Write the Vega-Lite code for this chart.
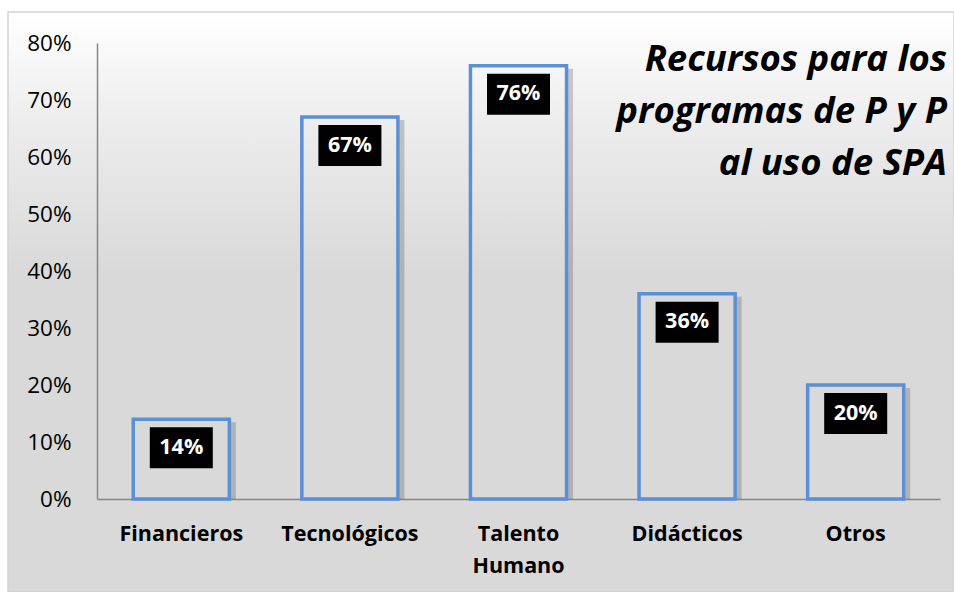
{
  "$schema": "https://vega.github.io/schema/vega-lite/v6.json",
  "autosize": "none",
  "width": 946,
  "height": 580,
  "padding": {"left": 8, "top": 12, "right": 0, "bottom": 0},
  "background": "#ffffff",
  "view": {
    "fill": {
      "gradient": "linear",
      "x1": 0, "y1": 0, "x2": 0, "y2": 1,
      "stops": [
        {"offset": 0, "color": "#ffffff"},
        {"offset": 0.2, "color": "#ececec"},
        {"offset": 0.45, "color": "#d9d9d9"},
        {"offset": 1, "color": "#d9d9d9"}
      ]
    },
    "stroke": "#d4d4d4",
    "strokeWidth": 1.5
  },
  "title": {
    "text": ["Recursos para los", "programas de P y P", "al uso de SPA"],
    "anchor": "end",
    "orient": "top",
    "frame": "group",
    "baseline": "top",
    "offset": -170,
    "dx": -7,
    "font": "Open Sans",
    "fontSize": 36.5,
    "fontWeight": "bold",
    "fontStyle": "italic",
    "color": "#000000",
    "lineHeight": 52
  },
  "data": {
    "values": [
      {"categoria": "Financieros", "valor": 0.14, "etiqueta": "14%"},
      {"categoria": "Tecnológicos", "valor": 0.67, "etiqueta": "67%"},
      {"categoria": "Talento Humano", "valor": 0.76, "etiqueta": "76%"},
      {"categoria": "Didácticos", "valor": 0.36, "etiqueta": "36%"},
      {"categoria": "Otros", "valor": 0.20, "etiqueta": "20%"}
    ]
  },
  "encoding": {
    "x": {
      "field": "categoria",
      "type": "nominal",
      "sort": null,
      "scale": {"range": [89, 932], "paddingInner": 0.43, "paddingOuter": 0.215},
      "axis": {
        "title": null,
        "orient": "bottom",
        "offset": -93,
        "domainColor": "#868686",
        "domainWidth": 1.5,
        "ticks": false,
        "tickSize": 0,
        "labelAngle": 0,
        "labelPadding": 24,
        "labelBaseline": "top",
        "labelFont": "Open Sans",
        "labelFontSize": 21.5,
        "labelFontWeight": "bold",
        "labelColor": "#000000",
        "labelLineHeight": 32,
        "labelExpr": "split(datum.label, ' ')"
      }
    }
  },
  "layer": [
    {
      "mark": {"type": "rule", "color": "#000000", "opacity": 0.18, "strokeWidth": 5, "xOffset": 4, "yOffset": 3},
      "encoding": {
        "x": {"field": "categoria", "type": "nominal", "sort": null, "bandPosition": 1},
        "y": {"field": "valor", "type": "quantitative"},
        "y2": {"datum": 0}
      }
    },
    {
      "mark": {"type": "bar", "fill": "transparent", "stroke": "#5b8fd6", "strokeWidth": 3.5},
      "encoding": {
        "y": {
          "field": "valor",
          "type": "quantitative",
          "scale": {"domain": [0, 0.8], "range": [487, 31], "nice": false},
          "axis": {
            "title": null,
            "orient": "left",
            "offset": -89,
            "values": [0, 0.1, 0.2, 0.3, 0.4, 0.5, 0.6, 0.7, 0.8],
            "format": ".0%",
            "grid": false,
            "ticks": false,
            "tickSize": 0,
            "domainColor": "#868686",
            "domainWidth": 1.5,
            "labelPadding": 26,
            "labelFont": "Open Sans",
            "labelFontSize": 22.5,
            "labelColor": "#000000"
          }
        }
      }
    },
    {
      "mark": {"type": "bar", "color": "#000000", "width": 63, "yOffset": 8, "y2Offset": 49},
      "encoding": {
        "y": {"field": "valor", "type": "quantitative"},
        "y2": {"field": "valor"}
      }
    },
    {
      "mark": {"type": "text", "color": "#ffffff", "font": "Open Sans", "fontSize": 21.5, "fontWeight": "bold", "baseline": "middle", "align": "center", "yOffset": 28.5},
      "encoding": {
        "y": {"field": "valor", "type": "quantitative"},
        "text": {"field": "etiqueta"}
      }
    }
  ]
}
